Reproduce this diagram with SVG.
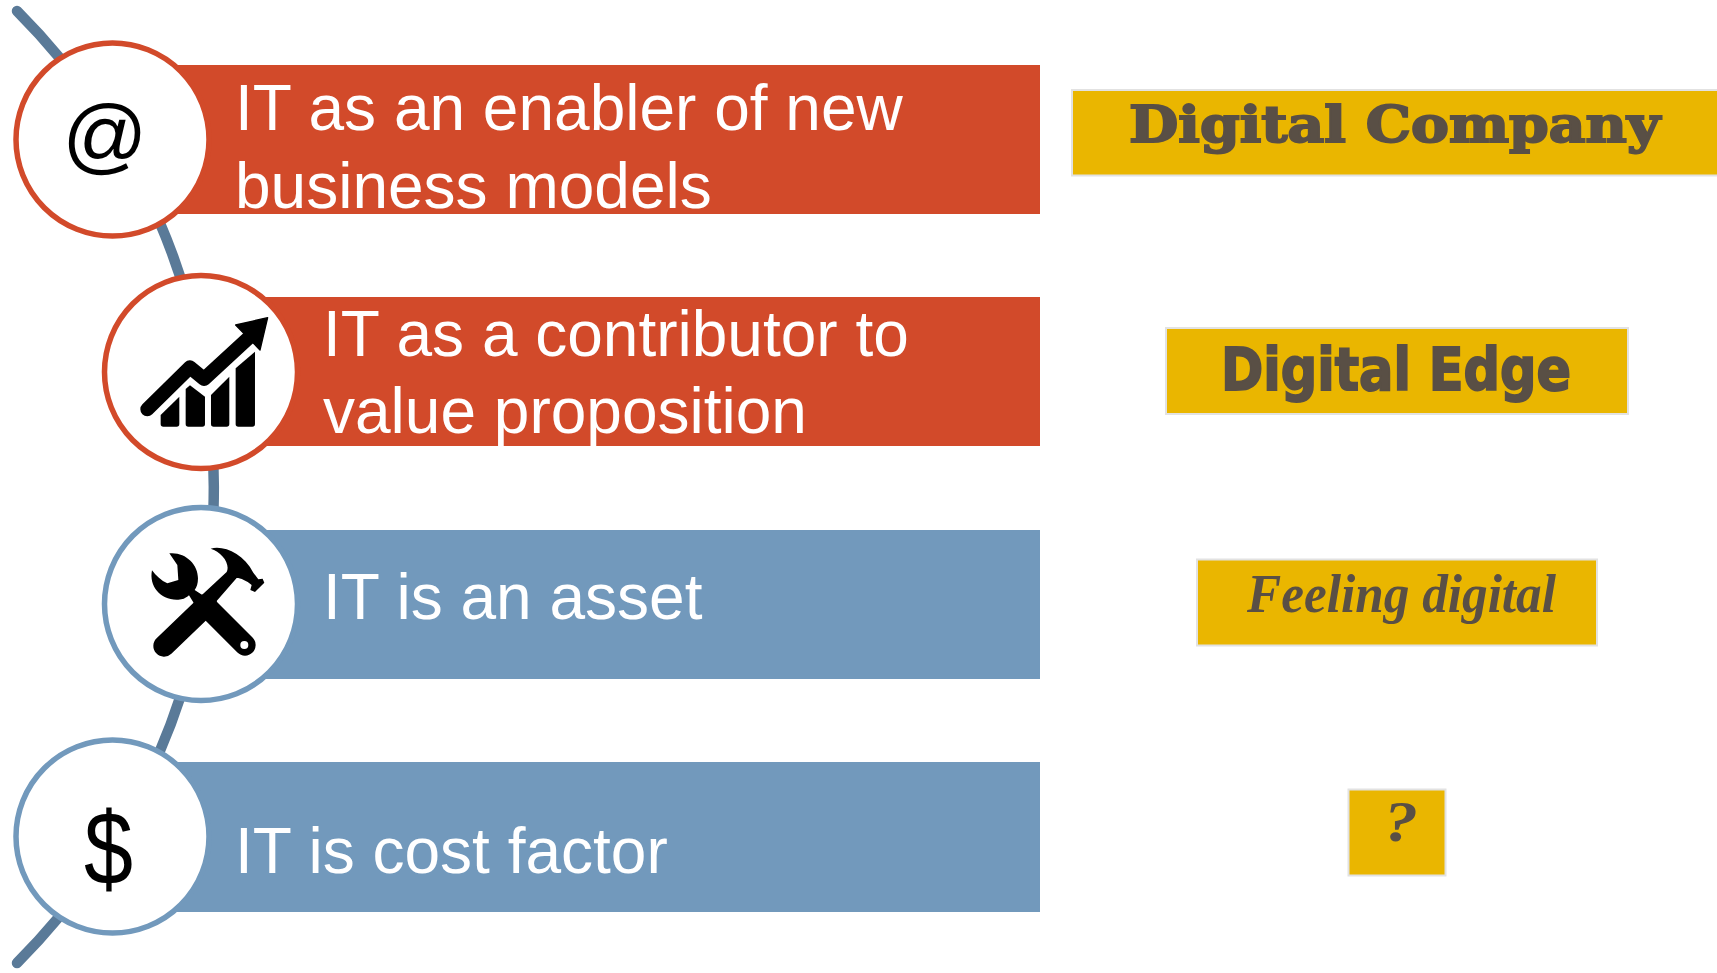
<svg xmlns="http://www.w3.org/2000/svg" width="1717" height="973" viewBox="0 0 1717 973">
<style>
.bar{stroke:none}
.red{fill:#d24a2a}
.blue{fill:#7299bc}
.disc{fill:#fff;stroke-width:5.5}
.dr{stroke:#d24a2a}
.db{stroke:#7299bc}
.t{font-family:"Liberation Sans",Arial,sans-serif;font-size:64px;fill:#fff}
.sym{font-family:"Liberation Sans",Arial,sans-serif;fill:#000}
.tag{fill:#eab600;stroke:#e2e2e2;stroke-width:2}
.lab{fill:#594f45;stroke:#594f45}
.icon{fill:#000}
</style>
<rect width="1717" height="973" fill="#fff"/>
<g id="connectors">
<path d="M17 11A674 674 0 0 1 17 963" fill="none" stroke="#5a7a98" stroke-width="10.500" stroke-linecap="round"/>
</g>
<g id="node-enabler">
<rect class="bar red" x="112" y="65" width="928" height="149"/>
<circle class="disc dr" cx="112.500" cy="139.500" r="96.500"/>
<text class="sym" x="105" y="164" font-size="84" text-anchor="middle">@</text>
<text class="t" x="235" y="130">IT as an enabler of new</text>
<text class="t" x="235" y="208">business models</text>
</g>
<g id="node-contributor">
<rect class="bar red" x="201" y="297" width="839" height="149"/>
<circle class="disc dr" cx="201" cy="372" r="96.500"/>
<g class="icon" transform="translate(90 260) scale(.3333)">
<path d="M212 465L268 410V492Q268 500 260 500H220Q212 500 212 492Z"/>
<path d="M287 387L300 376L345 410V492Q345 500 337 500H295Q287 500 287 492Z"/>
<path d="M363 405L418 350V492Q418 500 410 500H371Q363 500 363 492Z"/>
<path d="M437 325L495 275V492Q495 500 487 500H445Q437 500 437 492Z"/>
<path d="M172 448L300 322L342 357L480 230" fill="none" stroke="#000" stroke-width="42" stroke-linejoin="round" stroke-linecap="round"/>
<path d="M437 195L533 173L510 270Z" stroke="#000" stroke-width="4" stroke-linejoin="round"/>
</g>
<text class="t" x="323" y="356">IT as a contributor to</text>
<text class="t" x="323" y="433">value proposition</text>
</g>
<g id="node-asset">
<rect class="bar blue" x="201" y="530" width="839" height="149"/>
<circle class="disc db" cx="201" cy="604" r="96.500"/>
<g class="icon" transform="translate(90 490) scale(.3333)">
<path d="M362 176C400 165 460 190 490 248L505 268L518 266L523 278L495 306L481 300L485 285C470 272 452 264 440 264L365 350L330 320L410 246C422 222 395 185 362 176Z"/>
<path d="M222 468L350 345" fill="none" stroke="#000" stroke-width="64" stroke-linecap="round"/>
<path d="M345 345L465 465" fill="none" stroke="#000" stroke-width="64" stroke-linecap="round"/>
<path d="M238 190C285 185 324 222 324 265C324 282 320 292 314 300L360 330L330 370L297 316C285 326 278 329 265 329C213 332 176 290 186 241C198 258 214 272 232 280L265 270L262 225Z"/>
<circle cx="463" cy="465" r="12" fill="#fff"/>
</g>
<text class="t" x="323" y="619">IT is an asset</text>
</g>
<g id="node-cost">
<rect class="bar blue" x="112" y="762" width="928" height="150"/>
<circle class="disc db" cx="112.500" cy="836.500" r="96.500"/>
<text class="sym" x="84" y="884" font-size="104" textLength="49" lengthAdjust="spacingAndGlyphs">$</text>
<text class="t" x="235" y="873">IT is cost factor</text>
</g>
<g id="tag-company">
<rect class="tag" x="1072" y="90" width="650" height="85.500"/>
<text class="lab" x="1129" y="142" stroke-width="2" font-family="'DejaVu Serif',serif" font-weight="bold" font-size="50" textLength="531" lengthAdjust="spacingAndGlyphs">Digital Company</text>
</g>
<g id="tag-edge">
<rect class="tag" x="1166" y="328" width="462" height="86"/>
<text class="lab" x="1221" y="390" stroke-width="2" font-family="'DejaVu Sans',sans-serif" font-weight="bold" font-size="59" textLength="350" lengthAdjust="spacingAndGlyphs">Digital Edge</text>
</g>
<g id="tag-feeling">
<rect class="tag" x="1197" y="559.500" width="400" height="86"/>
<text class="lab" x="1247" y="612" stroke-width="0" font-family="'Liberation Serif',serif" font-style="italic" font-weight="bold" font-size="54" textLength="309" lengthAdjust="spacingAndGlyphs">Feeling digital</text>
</g>
<g id="tag-unknown">
<rect class="tag" x="1348.500" y="789.500" width="97" height="86"/>
<text class="lab" x="1384" y="841" stroke-width="0" font-family="'Liberation Serif',serif" font-style="italic" font-weight="bold" font-size="56" textLength="34" lengthAdjust="spacingAndGlyphs">?</text>
</g>
</svg>
